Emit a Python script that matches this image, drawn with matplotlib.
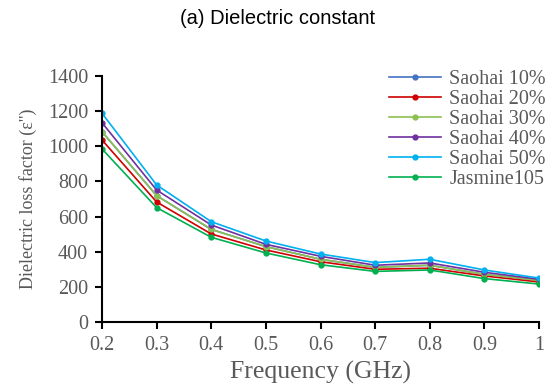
import matplotlib
matplotlib.use("Agg")
import matplotlib.pyplot as plt

freq = [0.2, 0.3, 0.4, 0.5, 0.6, 0.7, 0.8, 0.9, 1.0]
saohai10 = [1083, 719, 527, 429, 357, 311, 323, 271, 237]
saohai20 = [1036, 683, 501, 410, 343, 300, 306, 262, 228]
saohai30 = [1083, 719, 527, 429, 357, 311, 323, 271, 237]
saohai40 = [1134, 751, 552, 442, 374, 323, 336, 283, 243]
saohai50 = [1188, 780, 571, 461, 387, 338, 357, 296, 250]
jasmine = [985, 651, 482, 393, 326, 288, 296, 247, 216]

series = [
    ("Saohai 10%", saohai10, "#4472C4"),
    ("Saohai 20%", saohai20, "#D00000"),
    ("Saohai 30%", saohai30, "#8CC152"),
    ("Saohai 40%", saohai40, "#7030A0"),
    ("Saohai 50%", saohai50, "#00B0F0"),
    ("Jasmine105", jasmine, "#00B050"),
]

xticks = [0.2, 0.3, 0.4, 0.5, 0.6, 0.7, 0.8, 0.9, 1.0]
xticklabels = ["0.2", "0.3", "0.4", "0.5", "0.6", "0.7", "0.8", "0.9", "1"]
yticks = [0, 200, 400, 600, 800, 1000, 1200, 1400]

gray = "#595959"
serif = "Liberation Serif"

fig = plt.figure(figsize=(5.55, 3.89), dpi=100)
ax = fig.add_axes([102/555, 1 - 322/389, (539-102)/555, (322-76)/389])

for name, vals, col in series:
    ax.plot(freq, vals, color=col, lw=1.2, marker="o", ms=3.5, label=name)

ax.set_xlim(0.2, 1.0)
ax.set_ylim(0, 1400)
ax.set_xticks(xticks)
ax.set_xticklabels(xticklabels)
ax.set_yticks(yticks)
for s in ["top", "right"]:
    ax.spines[s].set_visible(False)
for s in ["left", "bottom"]:
    ax.spines[s].set_linewidth(1.5)
    ax.spines[s].set_color("black")
ax.tick_params(direction="out", length=5, width=1.5, colors="black",
               labelcolor=gray, labelsize=14.5, pad=5)
for lab in ax.get_xticklabels() + ax.get_yticklabels():
    lab.set_family(serif)

ax.set_xlabel("Frequency (GHz)", fontsize=18.5, color=gray, family=serif, labelpad=4)
ax.set_ylabel("Dielectric loss factor (\u03b5'')", fontsize=13, color=gray, family=serif, labelpad=8)

fig.text(0.5, 1 - 18/389, "(a) Dielectric constant", ha="center", va="center",
         fontsize=14.5, family="Liberation Sans", color="black")

leg = ax.legend(loc="upper right", bbox_to_anchor=(560/555, 1 - 56/389),
                bbox_transform=fig.transFigure, frameon=False,
                prop={"family": serif, "size": 14.5}, handlelength=2.6,
                handletextpad=0.4, labelspacing=0.04, borderpad=0.2)
for t in leg.get_texts():
    t.set_color(gray)

fig.savefig("out.png", dpi=100)
